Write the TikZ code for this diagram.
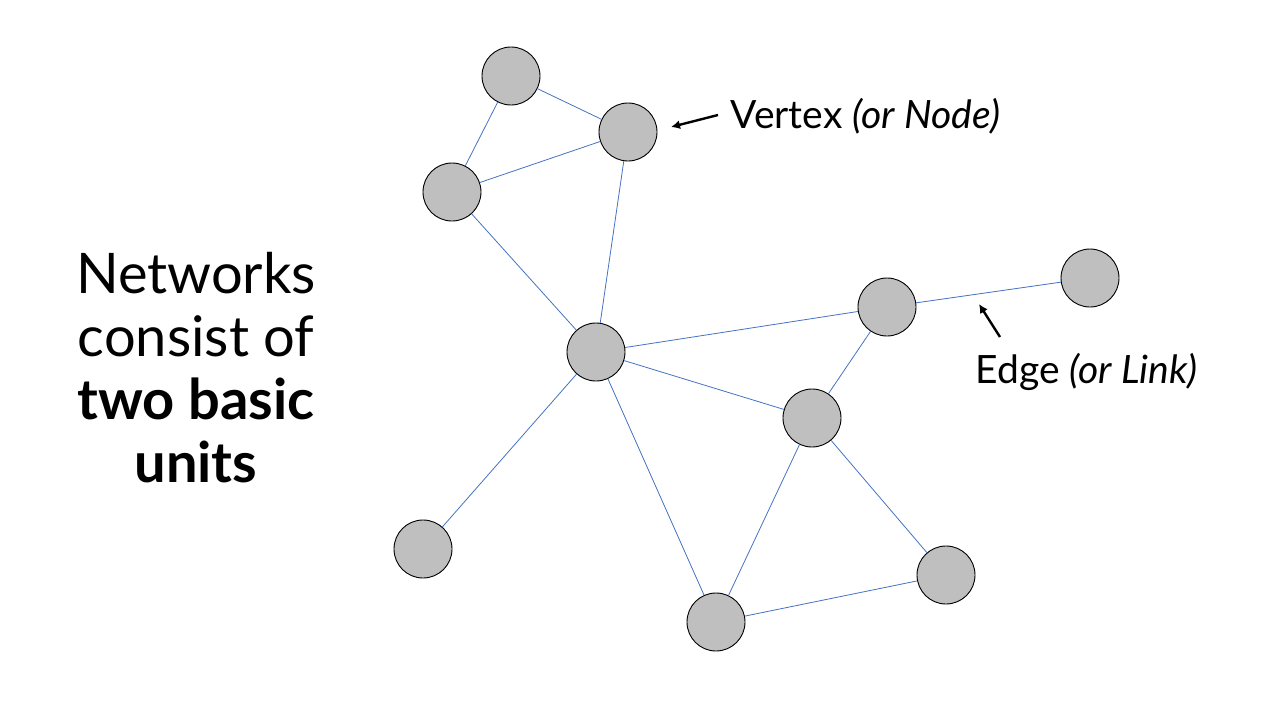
\documentclass[tikz,border=0pt]{standalone}
\usepackage{fontspec}
\setmainfont{Lato}
\usetikzlibrary{arrows.meta}
\definecolor{linkblue}{RGB}{68,114,196}

\begin{document}
\begin{tikzpicture}[
        x=1pt, y=-1pt,
        vertex/.style={circle, draw=black, fill=black!25, line width=0.9pt, minimum size=58pt, inner sep=0pt},
        link/.style={draw=linkblue, line width=0.8pt},
        pointer/.style={-{Latex[length=9pt,width=9pt]}, line width=2.4pt},
        label/.style={anchor=base west, font=\fontsize{39}{44}\selectfont}
    ]
    \useasboundingbox (0,0) rectangle (1280,720);

    % the vertices
    \node[vertex] (a) at (511,76) {};
    \node[vertex] (b) at (628,132) {};
    \node[vertex] (c) at (452,192) {};
    \node[vertex] (d) at (596,352) {};
    \node[vertex] (e) at (887,307) {};
    \node[vertex] (f) at (1090,278) {};
    \node[vertex] (g) at (812,418) {};
    \node[vertex] (h) at (423,549) {};
    \node[vertex] (i) at (946,575) {};
    \node[vertex] (j) at (716,622) {};

    % the edges
    \draw[link] (a) -- (b);
    \draw[link] (a) -- (c);
    \draw[link] (c) -- (b);
    \draw[link] (b) -- (d);
    \draw[link] (c) -- (d);
    \draw[link] (d) -- (e);
    \draw[link] (d) -- (g);
    \draw[link] (d) -- (h);
    \draw[link] (d) -- (j);
    \draw[link] (e) -- (f);
    \draw[link] (e) -- (g);
    \draw[link] (g) -- (j);
    \draw[link] (g) -- (i);
    \draw[link] (j) -- (i);

    % annotations
    \node[label] (vlab) at (727,128) {Vertex \textit{(or Node)}};
    \node[label] (elab) at (972,383) {Edge \textit{(or Link)}};
    \coordinate (vtail) at (718,115);
    \coordinate (vtip) at (671,127);
    \coordinate (etail) at (1000,337);
    \coordinate (etip) at (979,304);
    \draw[pointer] (vtail) -- (vtip);
    \draw[pointer] (etail) -- (etip);

    \node[anchor=base, align=center, font=\fontsize{56}{63}\selectfont] (title) at (196,482)
        {Networks\\consist of\\\textbf{two basic}\\\textbf{units}};
\end{tikzpicture}
\end{document}
